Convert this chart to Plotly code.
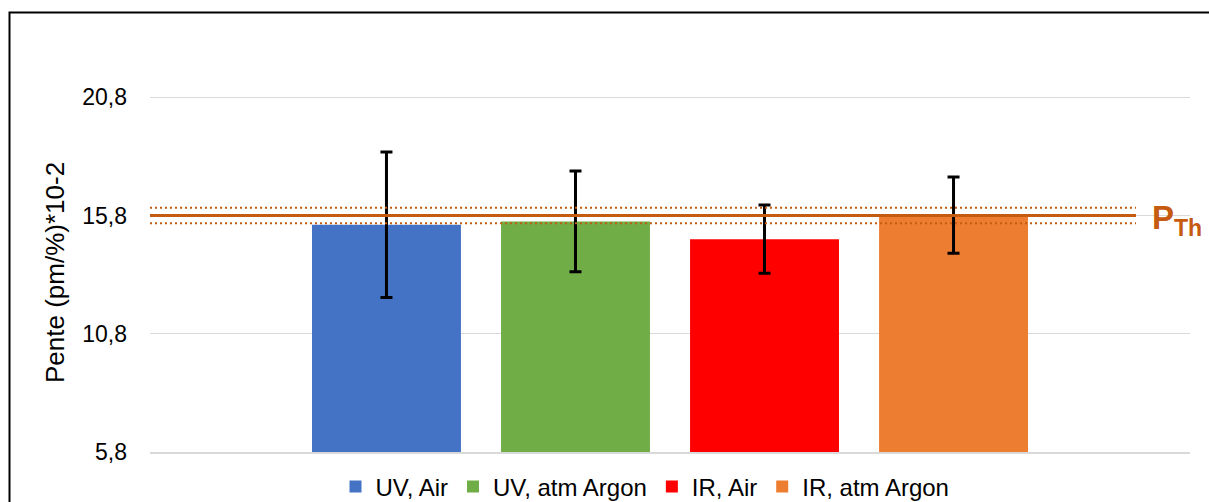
import plotly.graph_objects as go

# Mean slope per treatment and its uncertainty
series_names = ["UV, Air", "UV, atm Argon", "IR, Air", "IR, atm Argon"]
slope_means = [15.41, 15.55, 14.80, 15.82]
slope_errors = [3.08, 2.13, 1.44, 1.61]
bar_colors = ["#4472C4", "#70AD47", "#FF0000", "#ED7D31"]

# Theoretical slope and its tolerance band
p_th = 15.8
p_th_tol = 0.33

# Axis ticks
y_tick_start = 5.8
y_tick_step = 5.0
y_axis_max = 22.8
y_title = "Pente (pm/%)*10-2"

W, H = 1209, 502
ML, MR, MT, MB = 150, 19, 50, 50
plot_w = W - ML - MR
plot_h = H - MT - MB


def px_x(p):
    return (p - ML) / plot_w


def px_y(p):
    return (H - MB - p) / plot_h


fig = go.Figure()
for name, mean, err, col in zip(series_names, slope_means, slope_errors, bar_colors):
    fig.add_trace(go.Bar(
        name=name,
        x=[""],
        y=[mean],
        marker=dict(color=col, line=dict(width=0)),
        error_y=dict(type="data", array=[err], visible=True,
                     color="#000000", thickness=3, width=6),
    ))

THC = "#C55A11"
shapes = [
    # theoretical value
    dict(type="line", xref="paper", yref="y", x0=0, x1=px_x(1136),
         y0=p_th, y1=p_th, line=dict(color=THC, width=3), layer="above"),
    dict(type="line", xref="paper", yref="y", x0=0, x1=px_x(1136),
         y0=p_th + p_th_tol, y1=p_th + p_th_tol,
         line=dict(color=THC, width=2, dash="2px,3px"), layer="above"),
    dict(type="line", xref="paper", yref="y", x0=0, x1=px_x(1136),
         y0=p_th - p_th_tol, y1=p_th - p_th_tol,
         line=dict(color=THC, width=2, dash="2px,3px"), layer="above"),
    # chart frame
    dict(type="rect", xref="paper", yref="paper",
         x0=px_x(9.5), x1=px_x(1230), y0=px_y(520), y1=px_y(12.5),
         line=dict(color="#000000", width=2), fillcolor="rgba(0,0,0,0)",
         layer="above"),
]

fig.update_layout(
    width=W, height=H,
    margin=dict(l=ML, r=MR, t=MT, b=MB, autoexpand=False),
    paper_bgcolor="white", plot_bgcolor="white",
    separators=", ",
    barmode="group",
    bargap=0.273,
    bargroupgap=0.212,
    font=dict(family="Liberation Sans, Arial, sans-serif", color="#000000"),
    shapes=shapes,
    showlegend=True,
    legend=dict(orientation="h", x=px_x(645), xanchor="center",
                y=px_y(487), yanchor="middle",
                font=dict(size=24, color="#000000"),
                itemwidth=30, traceorder="normal",
                bgcolor="rgba(0,0,0,0)"),
    annotations=[
        dict(text="<b>P<sub>Th</sub></b>", xref="paper", yref="y",
             x=px_x(1150), y=p_th, xanchor="left", yanchor="middle",
             yshift=-4, showarrow=False,
             font=dict(size=33, color=THC,
                       family="Liberation Sans, Arial, sans-serif")),
        # value axis title
        dict(text=y_title, xref="paper", yref="paper",
             x=px_x(55), y=px_y(273), xanchor="center", yanchor="middle",
             textangle=-90, showarrow=False,
             font=dict(size=26, color="#000000",
                       family="Liberation Sans, Arial, sans-serif")),
    ],
)

fig.update_xaxes(showticklabels=False, showgrid=False, zeroline=False,
                 showline=True, linecolor="#D9D9D9", linewidth=2,
                 ticks="")
fig.update_yaxes(range=[y_tick_start, y_axis_max],
                 tick0=y_tick_start, dtick=y_tick_step, tickformat=".1f",
                 showgrid=True, gridcolor="#D9D9D9", gridwidth=1.3,
                 zeroline=False, showline=False, ticks="",
                 ticklabelstandoff=22,
                 tickfont=dict(size=23, color="#000000"))

fig.write_html("out.html")
